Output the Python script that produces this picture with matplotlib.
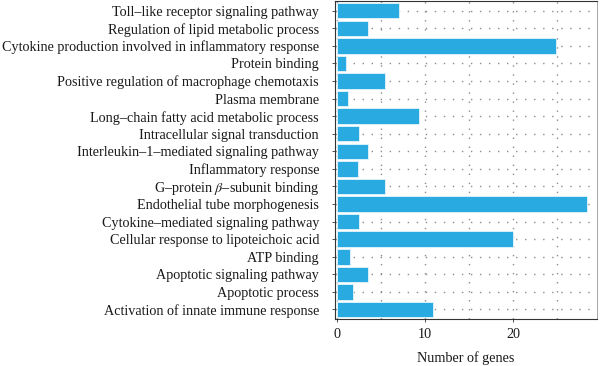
import matplotlib
matplotlib.use("Agg")
import matplotlib.pyplot as plt
import numpy as np

categories = [
    "Toll–like receptor signaling pathway",
    "Regulation of lipid metabolic process",
    "Cytokine production involved in inflammatory response",
    "Protein binding",
    "Positive regulation of macrophage chemotaxis",
    "Plasma membrane",
    "Long–chain fatty acid metabolic process",
    "Intracellular signal transduction",
    "Interleukin–1–mediated signaling pathway",
    "Inflammatory response",
    r"G–protein $\beta$–subunit binding",
    "Endothelial tube morphogenesis",
    "Cytokine–mediated signaling pathway",
    "Cellular response to lipoteichoic acid",
    "ATP binding",
    "Apoptotic signaling pathway",
    "Apoptotic process",
    "Activation of innate immune response",
]
gene_counts = [7.0, 3.5, 24.8, 1.1, 5.5, 1.3, 9.3, 2.5, 3.5, 2.4,
               5.5, 28.4, 2.5, 20.0, 1.5, 3.5, 1.8, 10.9]
x_ticks = [0, 10, 20]
x_label = "Number of genes"

plt.rcParams["font.family"] = ["Liberation Serif", "DejaVu Serif"]
plt.rcParams["mathtext.fontset"] = "stix"

fig = plt.figure(figsize=(6.0, 3.66), dpi=100)
ax = fig.add_axes([0.5583, 0.128, 0.4367, 0.869])

n = len(categories)
ypos = np.arange(n)[::-1]

# sparse dotted grid under the bars
grid_kw = dict(color="#8c8c8c", linewidth=1.0, linestyle=(0, (1, 5.5)), zorder=0)
for y in ypos:
    ax.axhline(y, **grid_kw)
for x in [0, 5, 10, 15, 20, 25]:
    ax.axvline(x, **grid_kw)

ax.barh(ypos, gene_counts, height=0.88, color="#29abe2",
        edgecolor="#e6f5fc", linewidth=0.6, zorder=2)

ax.set_xlim(-0.2, 29.5)
ax.set_ylim(-0.55, n - 0.45)
ax.set_yticks(ypos)
ax.set_yticklabels(categories, fontsize=10.2, color="#1a1a1a")
ax.set_xticks(x_ticks)
ax.set_xticklabels([str(t) for t in x_ticks], fontsize=10.2, color="#1a1a1a")
ax.set_xlabel(x_label, fontsize=10.2, color="#1a1a1a", labelpad=7)

ax.tick_params(axis="y", length=2.5, width=0.6, color="#333333", pad=9)
ax.tick_params(axis="x", length=2.5, width=0.6, color="#333333", pad=4)
for side in ["left", "bottom", "top"]:
    ax.spines[side].set_color("#333333")
    ax.spines[side].set_linewidth(0.8)
ax.spines["right"].set_color("#999999")
ax.spines["right"].set_linewidth(0.6)

fig.savefig("out.png", dpi=100)
